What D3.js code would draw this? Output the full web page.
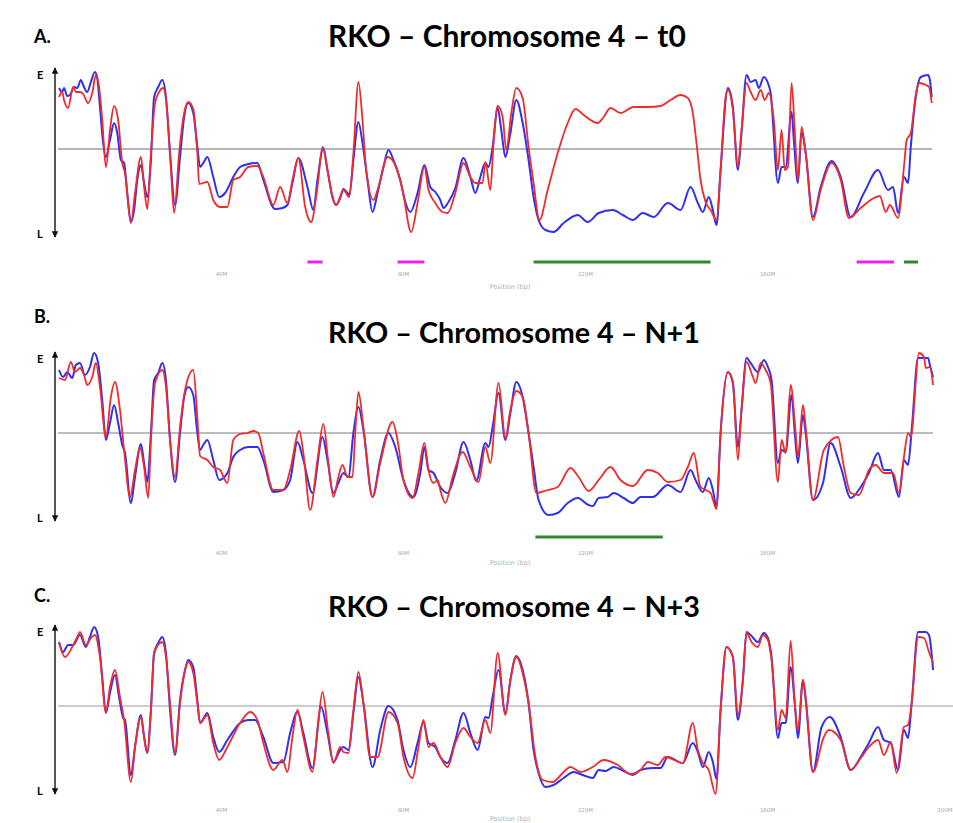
<!DOCTYPE html>
<html><head><meta charset="utf-8">
<script src="https://cdn.jsdelivr.net/npm/d3@7"></script>
<style>body{margin:0;background:#fff;} svg{display:block;}</style>
</head><body><svg id="chart" width="953" height="823"></svg>
<script>
// ---------- DATA ----------
const panelLabels = ["A.", "B.", "C."];
const panelTitles = ["RKO \u2013 Chromosome 4 \u2013 t0", "RKO \u2013 Chromosome 4 \u2013 N+1", "RKO \u2013 Chromosome 4 \u2013 N+3"];
const tickValues = [40, 80, 120, 160, 200];
const tickLabels = ["40M", "80M", "120M", "160M", "200M"];
const axisTitle = "Position (bp)";
const yLabels = ["E", "L"];
const yDomain = [-1.76, 1.62];   // L .. E
// [position Mb, value] pairs
const blueT0 = [[4.4,1.22],[5.1,1.14],[5.5,1.22],[6.2,1.06],[6.8,1.08],[7.7,1.24],[8.4,1.22],[9.2,1.38],[9.7,1.28],[10.6,1.14],[11.4,1.34],[12.3,1.54],[12.8,1.42],[13.4,0.84],[14.1,0.12],[14.7,-0.16],[15.6,0.18],[16.5,0.52],[17.2,0.32],[18.0,-0.22],[18.7,-0.28],[19.4,-0.88],[20.2,-1.46],[20.9,-1.22],[21.6,-0.62],[22.4,-0.32],[23.1,-0.68],[23.8,-0.96],[24.6,-0.22],[25.3,1.04],[26.2,1.24],[27.1,1.38],[27.9,1.04],[28.8,-0.08],[29.9,-1.12],[31.0,-0.16],[31.9,0.64],[32.8,0.92],[33.9,0.72],[34.8,0.04],[35.4,-0.36],[36.1,-0.28],[37.0,-0.16],[38.3,-0.56],[39.6,-0.96],[40.9,-0.88],[42.7,-0.56],[44.2,-0.36],[46.0,-0.30],[48.0,-0.28],[49.3,-0.62],[51.9,-1.20],[53.5,-1.18],[54.6,-1.12],[55.7,-0.68],[57.0,-0.18],[59.0,-0.76],[60.3,-1.22],[61.2,-0.62],[62.5,0.02],[63.4,-0.42],[64.5,-0.96],[65.3,-1.12],[66.2,-0.98],[66.9,-0.80],[67.8,-0.88],[68.2,-0.92],[69.1,-0.22],[70.2,0.54],[71.1,0.12],[72.2,-0.62],[73.3,-1.26],[74.4,-0.88],[75.7,-0.36],[76.8,-0.02],[77.9,-0.22],[79.4,-0.62],[80.5,-1.06],[81.6,-1.26],[83.2,-0.88],[84.7,-0.32],[86.0,-0.76],[87.1,-0.86],[88.2,-1.02],[88.9,-1.18],[90.0,-1.06],[91.5,-0.78],[93.3,-0.18],[94.8,-0.56],[95.9,-0.88],[97.0,-0.56],[98.1,-0.28],[98.8,-0.36],[99.7,0.04],[100.8,0.82],[101.6,0.38],[102.5,-0.16],[103.6,0.32],[104.9,0.98],[106.3,0.52],[107.6,-0.22],[108.7,-0.96],[109.8,-1.42],[111.3,-1.62],[113.1,-1.66],[115.3,-1.48],[118.4,-1.32],[120.6,-1.46],[123.0,-1.28],[126.1,-1.22],[128.3,-1.32],[130.5,-1.42],[132.7,-1.28],[135.1,-1.36],[138.2,-1.08],[141.0,-1.22],[143.2,-0.76],[144.8,-1.08],[145.9,-1.26],[147.2,-0.96],[148.1,-1.22],[148.9,-1.52],[149.8,-0.42],[151.4,1.22],[152.5,0.84],[153.6,-0.42],[154.4,0.32],[155.5,1.48],[156.4,1.34],[157.5,1.38],[158.2,1.22],[159.3,1.44],[160.2,1.32],[160.8,1.12],[162.4,-0.68],[163.2,-0.36],[164.1,-0.36],[165.4,0.74],[165.9,0.18],[166.8,-0.68],[167.6,0.34],[168.5,-0.08],[170.1,-1.36],[171.8,-0.76],[174.2,-0.24],[176.2,-0.56],[178.4,-1.36],[181.3,-0.88],[184.4,-0.42],[186.6,-0.82],[187.7,-0.76],[188.8,-1.28],[190.1,-0.56],[191.0,-0.68],[191.6,0.04],[192.7,1.04],[193.8,1.44],[195.4,1.48],[195.8,1.38],[196.2,1.04]];
const redT0 = [[4.4,1.04],[5.1,1.14],[5.5,0.98],[6.4,0.82],[7.5,1.24],[8.1,1.14],[9.0,1.14],[9.7,1.10],[10.8,0.92],[11.7,1.12],[12.5,1.48],[13.2,1.24],[13.9,0.58],[14.7,-0.36],[15.6,0.38],[16.5,0.86],[17.4,0.58],[18.3,-0.28],[18.9,-0.48],[20.2,-1.48],[21.1,-0.88],[22.4,-0.16],[23.1,-0.76],[23.8,-1.20],[24.6,-0.08],[25.5,0.92],[26.4,1.14],[27.3,1.22],[28.2,0.72],[29.0,-0.42],[29.7,-1.28],[30.8,-0.08],[31.9,0.72],[32.8,0.94],[33.9,0.80],[34.8,-0.08],[35.2,-0.70],[37.0,-0.66],[38.3,-1.02],[39.8,-1.16],[41.4,-1.16],[42.7,-0.62],[44.2,-0.56],[46.0,-0.36],[48.0,-0.34],[49.3,-0.56],[51.5,-1.12],[53.0,-0.76],[54.6,-1.08],[55.7,-0.62],[57.0,-0.18],[58.5,-1.16],[59.8,-1.46],[61.2,-0.76],[62.3,0.04],[63.4,-0.42],[64.5,-0.96],[65.3,-1.12],[66.2,-0.96],[66.9,-0.82],[68.2,-0.96],[69.1,-0.08],[70.2,1.34],[71.1,0.58],[71.9,-0.42],[73.5,-1.02],[74.6,-0.76],[76.6,-0.16],[78.3,-0.32],[79.9,-0.82],[81.8,-1.66],[83.2,-1.08],[84.7,-0.36],[85.6,-0.82],[87.1,-1.08],[88.7,-1.26],[89.8,-1.28],[91.5,-0.88],[93.3,-0.28],[94.8,-0.56],[95.9,-0.68],[97.5,-0.68],[98.1,-0.26],[99.2,-0.82],[99.9,0.12],[100.8,0.86],[101.9,0.64],[102.7,-0.02],[103.8,0.72],[104.9,1.22],[106.3,1.02],[107.6,0.04],[108.7,-0.68],[110.0,-1.42],[111.8,-0.82],[114.0,-0.08],[116.2,0.52],[117.9,0.80],[119.7,0.68],[122.8,0.52],[124.1,0.64],[125.6,0.82],[127.8,0.72],[130.7,0.84],[133.8,0.84],[136.6,0.86],[138.8,0.98],[141.0,1.08],[142.6,1.02],[143.7,0.72],[144.5,0.12],[145.4,-0.62],[146.5,-1.06],[147.6,-1.22],[148.9,-1.42],[149.8,-0.42],[150.9,1.04],[151.4,1.18],[152.5,0.78],[153.6,-0.36],[154.4,0.38],[155.5,1.32],[156.4,1.14],[157.5,0.98],[158.6,1.18],[159.5,0.98],[160.4,1.12],[161.5,0.58],[162.4,-0.42],[163.2,0.38],[163.9,-0.42],[164.6,-0.36],[165.4,1.32],[166.1,0.38],[166.8,-0.62],[167.6,0.44],[168.5,-0.08],[170.1,-1.42],[171.8,-0.82],[174.2,-0.28],[176.2,-0.62],[178.0,-1.38],[180.6,-1.18],[183.5,-0.98],[184.8,-0.94],[186.1,-1.26],[187.0,-1.12],[188.8,-1.38],[190.1,-0.36],[190.7,0.18],[191.6,0.32],[192.7,1.08],[193.4,1.32],[194.9,1.28],[195.6,1.24],[196.2,0.92]];
const blueN1 = [[4.4,1.26],[5.3,1.12],[6.2,1.22],[7.3,1.10],[8.1,1.36],[9.0,1.40],[10.1,1.16],[11.2,1.32],[12.1,1.60],[13.0,1.40],[13.9,0.66],[14.7,-0.14],[15.6,0.20],[16.5,0.56],[17.4,0.20],[18.3,-0.24],[18.9,-0.40],[20.2,-1.40],[21.1,-0.88],[22.4,-0.22],[23.1,-0.60],[23.8,-0.98],[24.6,0.00],[25.3,1.06],[26.2,1.20],[27.1,1.40],[27.9,1.06],[28.8,-0.14],[29.9,-0.98],[31.0,0.00],[31.9,0.72],[32.8,0.92],[33.9,0.76],[34.8,0.00],[35.4,-0.34],[36.1,-0.24],[37.0,-0.14],[38.3,-0.54],[39.6,-0.94],[41.4,-0.80],[42.7,-0.48],[44.2,-0.34],[46.0,-0.28],[48.0,-0.28],[49.3,-0.54],[51.5,-1.18],[53.7,-1.14],[55.2,-0.94],[56.8,-0.18],[58.1,-0.54],[60.1,-1.20],[62.3,-0.08],[63.4,-0.54],[64.7,-1.20],[65.8,-1.00],[66.9,-0.80],[68.0,-0.88],[69.1,0.00],[70.2,0.52],[71.3,0.06],[73.3,-1.28],[75.0,-0.54],[76.8,0.00],[78.3,-0.28],[80.1,-0.94],[82.3,-1.28],[83.8,-0.80],[84.7,-0.28],[85.6,-0.74],[86.7,-0.80],[88.2,-1.08],[89.8,-1.20],[91.5,-0.80],[93.3,-0.18],[94.8,-0.54],[96.1,-0.96],[98.1,-0.20],[98.8,-0.28],[99.7,0.12],[101.0,0.80],[102.5,-0.14],[103.6,0.40],[104.9,1.02],[106.3,0.72],[107.6,0.00],[108.7,-0.68],[109.8,-1.34],[112.0,-1.64],[114.0,-1.60],[116.2,-1.40],[118.4,-1.30],[120.8,-1.44],[121.7,-1.46],[123.0,-1.30],[125.0,-1.28],[126.3,-1.20],[128.5,-1.30],[130.5,-1.40],[132.2,-1.28],[134.9,-1.28],[138.2,-1.04],[141.0,-1.18],[143.2,-0.74],[144.3,-0.94],[145.9,-1.18],[147.2,-0.90],[148.1,-1.14],[148.9,-1.48],[149.8,0.00],[151.4,1.22],[152.5,1.00],[153.6,-0.28],[154.4,0.46],[155.5,1.50],[156.4,1.40],[158.0,1.22],[159.3,1.46],[160.2,1.32],[161.0,1.06],[162.4,-0.60],[163.2,-0.34],[164.1,-0.38],[165.4,0.76],[166.1,0.00],[166.8,-0.60],[167.9,0.36],[168.5,0.00],[170.1,-1.34],[172.3,-1.00],[174.0,-0.20],[176.2,-0.68],[178.4,-1.30],[180.6,-1.08],[182.4,-0.80],[184.4,-0.40],[185.7,-0.74],[187.2,-0.74],[189.0,-1.28],[190.1,-0.54],[191.0,-0.64],[191.8,0.06],[193.2,1.50],[194.5,1.50],[195.4,1.50],[195.8,1.36],[196.5,1.12]];
const redN1 = [[4.4,1.10],[5.7,1.06],[7.0,1.42],[7.9,1.22],[9.0,1.30],[9.9,1.16],[10.6,0.96],[11.7,1.12],[12.5,1.40],[13.4,0.92],[14.7,-0.08],[15.8,0.72],[16.7,1.02],[17.8,0.46],[18.7,-0.34],[20.0,-1.28],[21.1,-0.74],[22.2,-0.30],[23.1,-0.68],[24.0,-1.30],[24.6,-0.14],[25.5,1.00],[27.1,1.26],[27.9,0.92],[28.8,-0.14],[29.9,-0.88],[31.0,0.12],[32.1,0.86],[33.9,1.26],[34.8,0.32],[35.4,-0.46],[37.0,-0.54],[38.3,-0.68],[39.8,-0.74],[41.4,-1.00],[42.7,-0.14],[44.2,-0.02],[45.8,0.00],[47.1,0.04],[48.2,0.00],[49.3,-0.40],[51.5,-1.14],[53.7,-1.14],[55.2,-0.74],[57.2,0.04],[58.1,-0.40],[59.6,-1.54],[61.2,-0.54],[62.5,0.18],[63.6,-0.60],[64.7,-1.28],[65.8,-0.88],[66.7,-0.64],[67.8,-0.88],[68.9,-0.88],[69.5,0.00],[70.2,0.82],[71.3,0.12],[73.3,-1.28],[75.0,-0.60],[77.7,0.22],[78.8,-0.14],[80.1,-0.94],[82.1,-1.30],[83.4,-0.80],[84.7,-0.20],[85.6,-0.74],[86.7,-1.00],[87.6,-0.94],[88.2,-1.14],[89.3,-1.40],[90.9,-0.88],[93.1,-0.38],[94.8,-0.68],[96.6,-0.98],[98.1,-0.28],[99.2,-0.60],[101.0,1.00],[102.5,-0.10],[103.6,0.46],[104.9,0.84],[106.3,0.72],[107.6,0.00],[109.3,-1.20],[111.8,-1.14],[114.0,-1.08],[116.8,-0.70],[118.6,-0.88],[120.8,-1.16],[123.0,-0.94],[125.6,-0.68],[127.8,-0.94],[130.5,-1.06],[133.8,-0.74],[136.0,-0.80],[138.2,-0.98],[141.0,-0.94],[142.6,-0.68],[143.9,-0.40],[145.4,-1.08],[146.5,-1.14],[147.6,-1.20],[148.9,-1.52],[149.8,0.00],[151.4,1.22],[152.5,1.02],[153.6,-0.54],[154.4,0.46],[155.5,1.42],[156.9,1.12],[157.5,1.00],[158.6,1.40],[159.7,1.26],[160.8,1.00],[162.4,-0.98],[163.2,-0.14],[164.1,-0.40],[165.2,0.96],[166.3,0.00],[166.8,-0.48],[167.9,0.56],[168.5,0.12],[170.1,-1.34],[172.5,-0.34],[175.6,-0.08],[176.9,-0.68],[178.4,-1.20],[180.2,-1.24],[182.4,-0.74],[183.9,-0.64],[185.7,-0.80],[187.7,-0.80],[189.0,-1.20],[190.1,-0.48],[191.0,0.00],[191.6,-0.08],[193.4,1.60],[194.5,1.52],[194.9,1.30],[195.8,1.32],[196.5,0.96]];
const blueN3 = [[4.4,1.28],[5.3,1.08],[6.4,1.22],[7.5,1.22],[9.0,1.42],[10.3,1.18],[11.2,1.38],[12.1,1.58],[13.0,1.38],[13.9,0.58],[14.7,-0.14],[15.6,0.26],[16.7,0.62],[17.6,0.18],[18.5,-0.24],[18.9,-0.28],[20.2,-1.38],[21.1,-0.82],[22.4,-0.18],[23.1,-0.62],[23.8,-0.94],[24.6,-0.08],[25.3,1.06],[26.2,1.26],[27.1,1.38],[27.9,1.06],[28.8,-0.08],[29.9,-0.98],[31.0,0.12],[32.1,0.72],[32.8,0.92],[33.9,0.78],[34.8,0.12],[35.4,-0.34],[37.0,-0.14],[38.3,-0.62],[39.6,-0.92],[41.4,-0.68],[44.2,-0.34],[46.0,-0.28],[47.5,-0.28],[49.3,-0.62],[51.5,-1.14],[53.7,-1.12],[55.2,-0.54],[56.8,-0.12],[58.1,-0.54],[60.1,-1.24],[62.0,-0.02],[63.4,-0.54],[64.7,-1.12],[66.2,-0.88],[66.9,-0.82],[68.0,-0.88],[69.1,-0.14],[70.2,0.58],[71.3,0.06],[73.3,-1.22],[75.0,-0.48],[76.8,0.00],[78.8,-0.28],[80.1,-0.88],[81.6,-1.22],[83.2,-0.74],[84.5,-0.32],[85.6,-0.74],[87.1,-0.82],[88.2,-1.02],[89.8,-1.14],[91.5,-0.68],[93.3,-0.14],[94.8,-0.54],[96.4,-0.88],[98.1,-0.22],[98.8,-0.24],[99.7,0.18],[101.0,0.72],[102.5,-0.14],[103.6,0.52],[104.9,1.00],[106.3,0.72],[107.6,0.06],[108.7,-0.88],[109.8,-1.34],[111.3,-1.62],[113.1,-1.58],[115.3,-1.44],[117.5,-1.32],[119.5,-1.38],[121.7,-1.44],[123.0,-1.28],[124.5,-1.30],[126.3,-1.22],[128.5,-1.30],[130.5,-1.38],[132.2,-1.28],[134.9,-1.24],[136.6,-1.24],[138.2,-1.02],[141.5,-1.14],[143.7,-0.74],[144.8,-0.92],[145.9,-1.22],[147.2,-0.92],[148.1,-1.12],[148.9,-1.46],[149.8,-0.08],[151.1,1.18],[152.5,0.98],[153.6,-0.28],[154.7,0.52],[155.5,1.48],[156.4,1.42],[158.0,1.28],[159.3,1.46],[160.2,1.36],[161.0,0.98],[162.4,-0.64],[163.2,-0.34],[164.1,-0.34],[165.2,0.78],[166.1,0.06],[166.8,-0.64],[167.9,0.52],[168.5,0.12],[170.1,-1.32],[172.0,-0.42],[173.8,-0.22],[176.2,-0.62],[178.4,-1.28],[180.6,-1.02],[182.4,-0.74],[184.4,-0.42],[185.7,-0.68],[187.2,-0.74],[188.8,-1.28],[190.1,-0.48],[191.0,-0.64],[191.8,0.06],[193.2,1.48],[194.9,1.48],[195.6,1.42],[196.5,0.72]];
const redN3 = [[4.4,1.26],[5.7,0.98],[7.3,1.18],[8.4,1.38],[9.0,1.48],[10.3,1.22],[11.4,1.36],[12.3,1.42],[13.4,0.98],[14.7,-0.12],[15.6,0.38],[16.7,0.72],[17.8,0.18],[18.7,-0.28],[20.2,-1.52],[21.1,-0.82],[22.4,-0.22],[23.1,-0.62],[23.8,-0.94],[24.6,-0.08],[25.3,1.06],[27.1,1.28],[27.9,0.98],[28.8,0.06],[29.9,-0.94],[31.0,0.06],[32.1,0.72],[32.8,0.88],[33.9,0.66],[34.8,0.06],[35.4,-0.34],[37.0,-0.18],[38.3,-0.74],[39.6,-1.08],[41.4,-0.82],[44.2,-0.34],[46.4,-0.12],[48.0,-0.28],[49.3,-0.74],[51.5,-1.28],[53.5,-1.08],[54.6,-1.32],[55.7,-0.62],[56.8,-0.08],[58.1,-0.62],[60.1,-1.32],[61.2,-0.48],[62.3,0.28],[63.6,-0.54],[64.7,-1.14],[66.2,-0.82],[66.9,-0.92],[68.0,-0.94],[69.1,-0.08],[70.2,0.68],[71.3,0.06],[72.8,-1.02],[74.4,-1.02],[76.8,-0.12],[78.8,-0.34],[80.1,-1.02],[82.1,-1.44],[83.4,-0.82],[84.5,-0.28],[85.6,-0.82],[86.7,-0.74],[88.2,-1.02],[89.8,-1.22],[91.5,-0.74],[93.3,-0.44],[94.8,-0.62],[96.4,-0.74],[98.1,-0.28],[99.2,-0.54],[100.8,1.06],[102.5,-0.18],[103.6,0.52],[104.9,0.98],[106.5,0.58],[107.6,0.06],[109.1,-1.02],[110.7,-1.48],[112.9,-1.52],[115.1,-1.34],[116.8,-1.22],[119.0,-1.32],[121.7,-1.22],[124.1,-1.08],[127.2,-1.18],[130.0,-1.36],[132.2,-1.28],[133.8,-1.12],[136.0,-1.18],[137.7,-1.02],[141.5,-1.14],[143.7,-0.34],[144.8,-0.88],[145.9,-1.14],[147.2,-1.28],[148.7,-1.76],[149.8,-0.08],[151.1,1.18],[152.5,0.98],[153.6,-0.18],[154.7,0.52],[155.5,1.46],[156.6,1.28],[158.0,1.18],[159.1,1.42],[160.2,1.32],[161.0,0.92],[162.4,-0.48],[163.2,-0.08],[164.1,-0.24],[165.2,1.30],[166.1,0.06],[166.8,-0.48],[167.9,0.52],[168.5,0.18],[170.1,-1.32],[172.5,-0.62],[173.6,-0.48],[176.2,-0.68],[178.4,-1.28],[180.6,-1.04],[182.4,-0.82],[184.4,-0.68],[185.7,-0.98],[187.2,-0.72],[188.5,-1.34],[190.1,-0.42],[191.0,-0.38],[191.8,0.06],[193.2,1.38],[194.5,1.36],[195.6,1.08],[196.5,0.86]];
// highlighted regions [start Mb, end Mb, kind]
const regionsT0 = [[59.0,62.3,"magenta"],[78.8,84.7,"magenta"],[108.7,147.6,"green"],[179.7,187.9,"magenta"],[190.1,193.2,"green"]];
const regionsN1 = [[109.1,137.1,"green"]];
const regionsN3 = [];

// ---------- LAYOUT / STYLE ----------
const W = 953, H = 823;
const colors = {blue: "#2f2ff5", red: "#f42a2a", magenta: "#f01ef0", green: "#2e8a2e"};
const panels = [
  {blue: blueT0, red: redT0, regions: regionsT0, mid: 149, labelY: 43, titleY: 47, titleW: 358, regionY: 262, tickY: 273, axisTitleY: 289, nTicks: 4, midX1: 932, midColor: "#6e6e6e"},
  {blue: blueN1, red: redN1, regions: regionsN1, mid: 433, labelY: 323, titleY: 343, titleW: 372, regionY: 537, tickY: 552, axisTitleY: 565, nTicks: 4, midX1: 933, midColor: "#7a7a7a"},
  {blue: blueN3, red: redN3, regions: regionsN3, mid: 706, labelY: 602, titleY: 617, titleW: 372, regionY: null, tickY: 809, axisTitleY: 821, nTicks: 5, midX1: 953, midColor: "#9a9a9a"}
];

const svg = d3.select("#chart");
svg.append("rect").attr("width", W).attr("height", H).attr("fill", "#fff");
const defs = svg.append("defs");
defs.append("marker").attr("id", "arr").attr("viewBox", "0 0 10 10")
  .attr("refX", 9).attr("refY", 5).attr("markerWidth", 4.5).attr("markerHeight", 4.5)
  .attr("orient", "auto-start-reverse")
  .append("path").attr("d", "M0,0L10,5L0,10Z").attr("fill", "#111");

const x = d3.scaleLinear().domain([0, 200]).range([39, 949]);

panels.forEach((p, i) => {
  const g = svg.append("g");
  const y = d3.scaleLinear().domain(yDomain).range([p.mid + 88, p.mid - 81]);

  // panel letter
  g.append("text").attr("x", 34).attr("y", p.labelY)
    .attr("font-family", "Lato, 'Open Sans', sans-serif").attr("font-weight", 700)
    .attr("font-size", 18).attr("fill", "#000").text(panelLabels[i]);

  // title, fitted to reference width
  const t = g.append("text").attr("x", 328).attr("y", p.titleY)
    .attr("font-family", "Lato, 'Open Sans', sans-serif").attr("font-weight", 700)
    .attr("font-size", 26).attr("fill", "#000").text(panelTitles[i]);
  const len = t.node().getComputedTextLength();
  if (len > 0) t.attr("font-size", 26 * p.titleW / len);

  // midline (value 0)
  g.append("line").attr("x1", 58).attr("x2", p.midX1)
    .attr("y1", y(0)).attr("y2", y(0))
    .attr("stroke", p.midColor).attr("stroke-width", 1.2);

  // vertical E/L double arrow
  g.append("line").attr("x1", 55).attr("x2", 55)
    .attr("y1", y(yDomain[0])).attr("y2", y(yDomain[1]))
    .attr("stroke", "#111").attr("stroke-width", 1.4)
    .attr("marker-start", "url(#arr)").attr("marker-end", "url(#arr)");
  g.append("text").attr("x", 37).attr("y", y(yDomain[1]) + 11)
    .attr("font-family", "Lato, sans-serif").attr("font-weight", 700).attr("font-size", 11)
    .text(yLabels[0]);
  g.append("text").attr("x", 37).attr("y", y(yDomain[0]) + 1)
    .attr("font-family", "Lato, sans-serif").attr("font-weight", 700).attr("font-size", 11)
    .text(yLabels[1]);

  // lines
  const line = d3.line().x(d => x(d[0])).y(d => y(d[1])).curve(d3.curveMonotoneX);
  g.append("path").datum(p.blue).attr("d", line).attr("fill", "none")
    .attr("stroke", colors.blue).attr("stroke-width", 2).attr("stroke-linejoin", "round");
  g.append("path").datum(p.red).attr("d", line).attr("fill", "none")
    .attr("stroke", colors.red).attr("stroke-width", 1.8).attr("stroke-linejoin", "round");

  // highlighted regions
  if (p.regionY !== null) {
    g.selectAll(".reg").data(p.regions).enter().append("line")
      .attr("x1", d => x(d[0])).attr("x2", d => x(d[1]))
      .attr("y1", p.regionY).attr("y2", p.regionY)
      .attr("stroke", d => colors[d[2]]).attr("stroke-width", 3);
  }

  // x axis (faint tick labels only)
  const tv = tickValues.slice(0, p.nTicks);
  const axis = d3.axisBottom(x).tickValues(tv).tickSize(0)
    .tickFormat(d => tickLabels[tickValues.indexOf(d)]);
  const ag = g.append("g").attr("transform", `translate(0,${p.tickY - 4})`).call(axis);
  ag.select(".domain").remove();
  ag.selectAll("text").attr("font-size", 5.5).attr("fill", "#a8a8a8")
    .attr("font-family", "'DejaVu Sans', sans-serif")
    .attr("text-anchor", d => d === 200 ? "end" : "middle")
    .attr("dx", d => d === 200 ? 3 : 0);
  g.append("text").attr("x", 510).attr("y", p.axisTitleY).attr("text-anchor", "middle")
    .attr("font-size", 6.5).attr("fill", "#b0b0b0").attr("font-family", "'DejaVu Sans', sans-serif")
    .text(axisTitle);
});
</script>
</body></html>
